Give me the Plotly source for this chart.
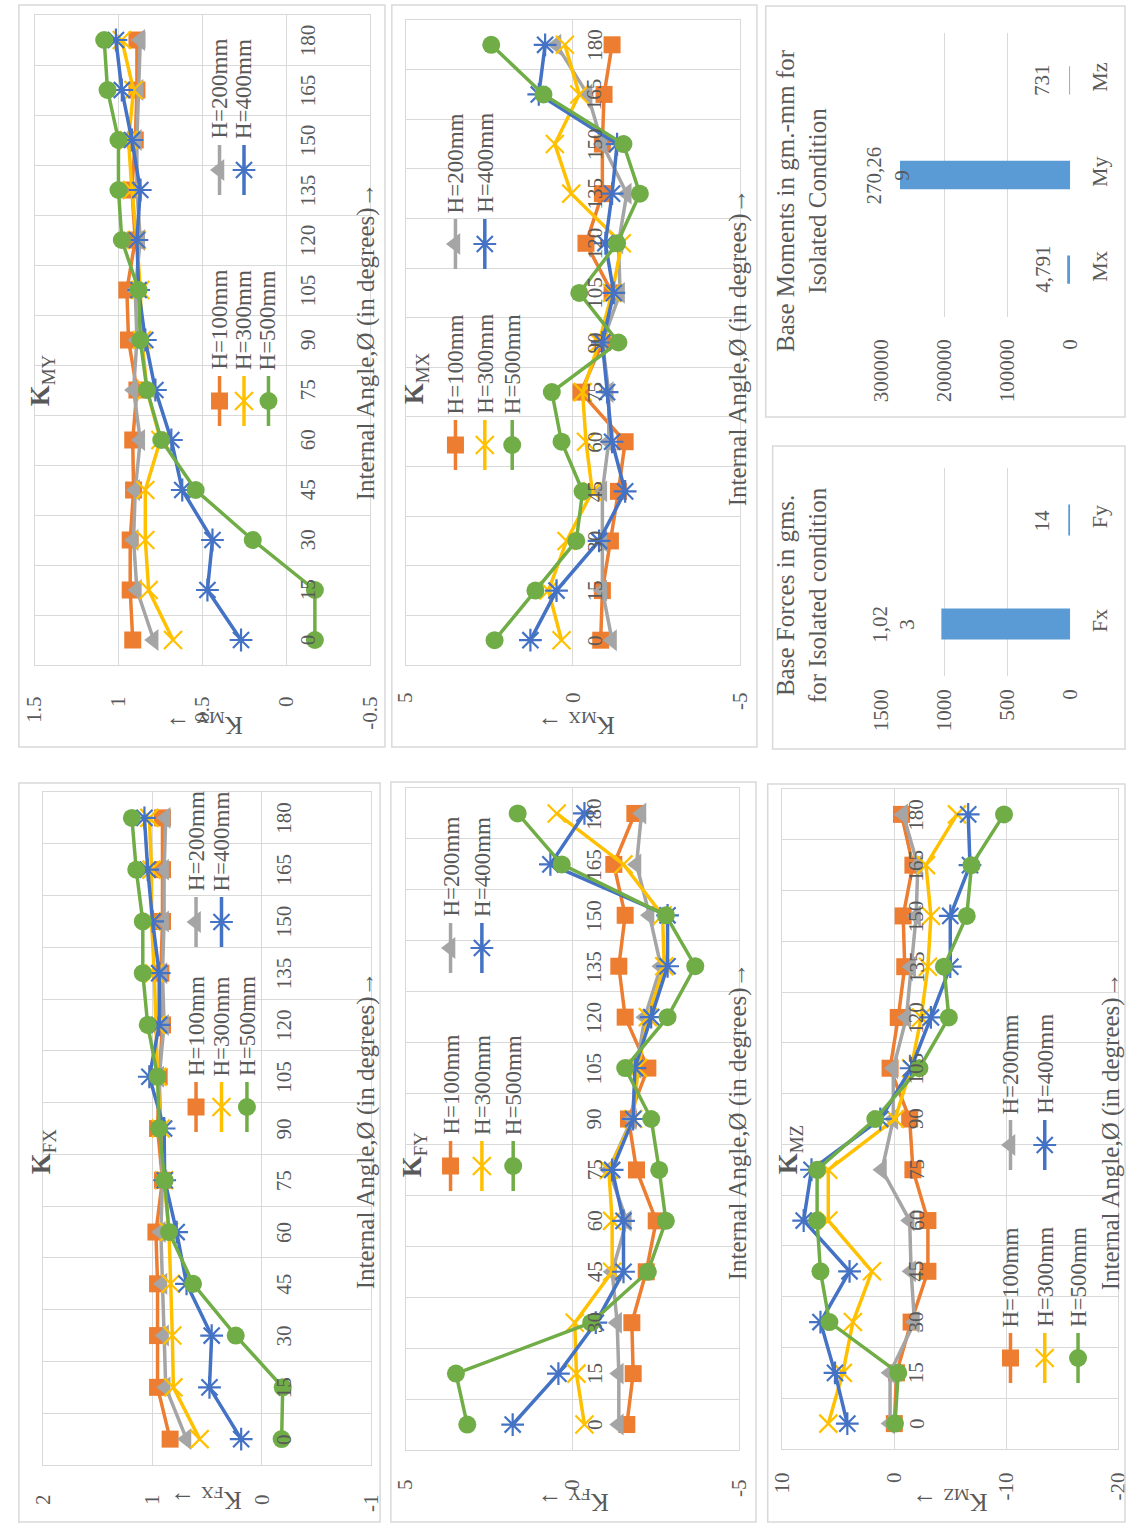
import plotly.graph_objects as go

W, H = 1138, 1523
FONT = "Liberation Serif"
TXT = "#595959"
GRID = "#D9D9D9"

# ---------------- data ----------------
angles = [0, 15, 30, 45, 60, 75, 90, 105, 120, 135, 150, 165, 180]
angle_labels = ["0", "15", "30", "45", "60", "75", "90", "105", "120", "135", "150", "165", "180"]
series_names = ["H=100mm", "H=200mm", "H=300mm", "H=400mm", "H=500mm"]

kmy_h100 = [0.915, 0.93, 0.93, 0.91, 0.915, 0.89, 0.94, 0.95, 0.90, 0.92, 0.90, 0.89, 0.89]
kmy_h200 = [0.79, 0.89, 0.91, 0.90, 0.87, 0.91, 0.89, 0.90, 0.87, 0.89, 0.89, 0.88, 0.87]
kmy_h300 = [0.675, 0.82, 0.84, 0.84, 0.75, 0.83, 0.86, 0.87, 0.89, 0.92, 0.94, 0.91, 0.98]
kmy_h400 = [0.27, 0.47, 0.44, 0.62, 0.685, 0.78, 0.84, 0.88, 0.89, 0.87, 0.92, 0.98, 1.015]
kmy_h500 = [-0.17, -0.17, 0.20, 0.54, 0.745, 0.83, 0.87, 0.88, 0.98, 1.0, 1.0, 1.065, 1.085]

kmx_h100 = [-0.83, -0.88, -1.12, -1.36, -1.56, -0.24, -0.88, -1.17, -0.39, -0.88, -0.88, -0.93, -1.17]
kmx_h200 = [-1.17, -0.88, -0.88, -0.88, -1.07, -1.07, -0.88, -1.41, -1.36, -1.61, -0.88, -0.44, 0.49]
kmx_h300 = [0.34, 0.73, 0.19, -0.58, -0.39, -0.29, -0.78, -1.17, -1.46, 0.05, 0.54, -0.19, 0.24]
kmx_h400 = [1.27, 0.49, -0.78, -1.56, -1.17, -1.02, -0.88, -1.22, -0.97, -1.17, -1.32, 1.02, 0.83]
kmx_h500 = [2.34, 1.12, -0.10, -0.29, 0.34, 0.63, -1.36, -0.19, -1.32, -2.0, -1.51, 0.88, 2.44]

kfx_h100 = [0.84, 0.955, 0.955, 0.955, 0.97, 0.91, 0.955, 0.94, 0.91, 0.925, 0.91, 0.91, 0.91]
kfx_h200 = [0.69, 0.88, 0.895, 0.91, 0.925, 0.91, 0.925, 0.94, 0.895, 0.91, 0.895, 0.895, 0.88]
kfx_h300 = [0.57, 0.81, 0.82, 0.835, 0.85, 0.895, 0.925, 0.955, 0.97, 0.985, 1.01, 1.01, 1.03]
kfx_h400 = [0.19, 0.48, 0.46, 0.69, 0.78, 0.89, 0.895, 1.03, 0.94, 0.94, 1.0, 1.045, 1.075]
kfx_h500 = [-0.18, -0.19, 0.24, 0.63, 0.85, 0.89, 0.94, 0.955, 1.045, 1.09, 1.09, 1.15, 1.19]

kfy_h100 = [-1.63, -1.82, -1.78, -2.21, -2.51, -1.92, -1.68, -2.26, -1.58, -1.39, -1.58, -1.24, -1.87]
kfy_h200 = [-1.39, -1.39, -1.34, -1.19, -1.63, -1.09, -1.78, -1.92, -2.17, -2.65, -2.31, -1.92, -2.07]
kfy_h300 = [-0.36, -0.12, -0.07, -1.19, -1.19, -1.09, -1.82, -1.97, -2.26, -2.75, -2.70, -1.53, 0.47]
kfy_h400 = [1.79, 0.42, -0.70, -1.53, -1.53, -1.19, -1.82, -1.87, -2.36, -2.85, -2.85, 0.66, -0.36]
kfy_h500 = [3.15, 3.49, -0.56, -2.26, -2.80, -2.60, -2.36, -1.58, -2.85, -3.68, -2.80, 0.32, 1.64]

kmz_h100 = [0.0, -0.2, -1.5, -3.0, -3.0, -1.66, -1.37, 0.38, -0.35, -0.93, -0.79, -1.66, -0.64]
kmz_h200 = [0.38, 0.38, -1.8, -1.5, -1.37, 1.1, 0.09, 0.09, -1.08, -1.5, -1.95, -2.1, -0.79]
kmz_h300 = [5.9, 4.6, 3.7, 2.0, 5.9, 5.9, -0.06, -1.5, -2.4, -3.0, -3.27, -2.83, -5.6]
kmz_h400 = [4.2, 5.3, 6.6, 4.0, 8.1, 7.4, 1.25, -1.5, -3.27, -5.0, -5.0, -6.76, -6.6]
kmz_h500 = [-0.06, -0.35, 5.8, 6.6, 6.9, 6.9, 1.7, -2.24, -4.87, -4.43, -6.47, -6.9, -9.8]

kmy_ticks = [1.5, 1, 0.5, 0, -0.5]
kmy_tick_labels = ["1.5", "1", "0.5", "0", "-0.5"]
kmx_ticks = [5, 0, -5]
kmx_tick_labels = ["5", "0", "-5"]
kfx_ticks = [2, 1, 0, -1]
kfx_tick_labels = ["2", "1", "0", "-1"]
kfy_ticks = [5, 0, -5]
kfy_tick_labels = ["5", "0", "-5"]
kmz_ticks = [10, 0, -10, -20]
kmz_tick_labels = ["10", "0", "-10", "-20"]

moment_cats = ["Mx", "My", "Mz"]
moment_vals = [4791, 270269, 731]
moment_labels = ["4,791", "270,26<br>9", "731"]
moment_ticks = [0, 100000, 200000, 300000]
moment_tick_labels = ["0", "100000", "200000", "300000"]

force_cats = ["Fx", "Fy"]
force_vals = [1023, 14]
force_labels = ["1,02<br>3", "14"]
force_ticks = [0, 500, 1000, 1500]
force_tick_labels = ["0", "500", "1000", "1500"]

# ---------------- styling / layout ----------------
styles = [
    dict(color="#ED7D31", symbol="square", size=17, open=False),
    dict(color="#A5A5A5", symbol="triangle-left", size=19, open=False),
    dict(color="#FFC000", symbol="x-thin-open", size=18, open=True),
    dict(color="#4472C4", symbol="asterisk-open", size=19, open=True),
    dict(color="#70AD47", symbol="circle", size=18, open=False),
]
LINE_W = 3.5


def fx(p):
    return p / W


def fy(p):
    return 1 - p / H


def font(size, color=TXT):
    return dict(family=FONT, size=size, color=color)


def marker_of(st):
    if st["open"]:
        return dict(symbol=st["symbol"], size=st["size"], color=st["color"],
                    line=dict(color=st["color"], width=2.2))
    return dict(symbol=st["symbol"], size=st["size"], color=st["color"], line=dict(width=0))


charts = [
    dict(title="<b>K</b><sub>MY</sub>", vt="K<sub>MY</sub> →",
         data=[kmy_h100, kmy_h200, kmy_h300, kmy_h400, kmy_h500],
         box=(23, 366, 15, 665), rng=(1.5, -0.5), ticks=kmy_ticks, tl=kmy_tick_labels,
         tpos=(31, 380), apos=(362, 341), vpos=(196, 723), standoff=22,
         leg_cols=(212, 237, 262), leg_rows=(401, 170)),
    dict(title="<b>K</b><sub>MX</sub>", vt="K<sub>MX</sub> →",
         data=[kmx_h100, kmx_h200, kmx_h300, kmx_h400, kmx_h500],
         box=(402, 744, 20, 665), rng=(5, -5), ticks=kmx_ticks, tl=kmx_tick_labels,
         tpos=(413, 378), apos=(742, 347), vpos=(576, 723), standoff=18,
         leg_cols=(453, 483, 511), leg_rows=(445, 244)),
    dict(title="<b>K</b><sub>FX</sub>", vt="K<sub>FX</sub> →",
         data=[kfx_h100, kfx_h200, kfx_h300, kfx_h400, kfx_h500],
         box=(32, 367, 792, 1465), rng=(2, -1), ticks=kfx_ticks, tl=kfx_tick_labels,
         tpos=(32, 1151), apos=(362, 1130), vpos=(198, 1499), standoff=20,
         leg_cols=(188, 214, 240), leg_rows=(1107, 922)),
    dict(title="<b>K</b><sub>FY</sub>", vt="K<sub>FY</sub> →",
         data=[kfy_h100, kfy_h200, kfy_h300, kfy_h400, kfy_h500],
         box=(402, 743, 788, 1450), rng=(5, -5), ticks=kfy_ticks, tl=kfy_tick_labels,
         tpos=(411, 1154), apos=(742, 1121), vpos=(573, 1501), standoff=20,
         leg_cols=(448, 480, 512), leg_rows=(1166, 948)),
    dict(title="<b>K</b><sub>MZ</sub>", vt="K<sub>MZ</sub> →",
         data=[kmz_h100, kmz_h200, kmz_h300, kmz_h400, kmz_h500],
         box=(787, 1130, 789, 1449), rng=(10, -20), ticks=kmz_ticks, tl=kmz_tick_labels,
         tpos=(795, 1150), apos=(1123, 1131), vpos=(958, 1501), standoff=14,
         leg_cols=(1020, 1055, 1089), leg_rows=(1358, 1145)),
]

panel_boxes = [(7, 5, 381, 747), (388, 5, 761, 747), (770, 6, 1137, 417), (777, 446, 1137, 749),
               (7, 783, 376, 1522), (387, 782, 760, 1522), (772, 784, 1137, 1522)]

fig = go.Figure()
layout = dict(width=W, height=H, margin=dict(l=0, r=0, t=0, b=0),
              paper_bgcolor="white", plot_bgcolor="rgba(0,0,0,0)", showlegend=False)
annotations = []
shapes = []

for (x0, y0, x1, y1) in panel_boxes:
    shapes.append(dict(type="rect", xref="paper", yref="paper", x0=fx(x0), x1=fx(x1),
                       y0=fy(y1), y1=fy(y0), line=dict(color=GRID, width=1.5)))

grid_angles = [-7.5 + 15 * i for i in range(14)]

for n, ch in enumerate(charts, start=1):
    sfx = "" if n == 1 else str(n)
    xa, ya = "x" + sfx, "y" + sfx
    bx0, bx1, by0, by1 = ch["box"]
    layout["xaxis" + sfx] = dict(domain=[fx(bx0), fx(bx1)], range=list(ch["rng"]), anchor=ya,
                                 tickvals=ch["ticks"], ticktext=ch["tl"], tickangle=-90,
                                 tickfont=font(21), showgrid=True, gridcolor=GRID, gridwidth=1,
                                 zeroline=False, showline=True, mirror=True, linecolor=GRID,
                                 linewidth=1, ticks="", ticklabelstandoff=ch["standoff"],
                                 fixedrange=True)
    layout["yaxis" + sfx] = dict(domain=[fy(by1), fy(by0)], range=[-7.5, 187.5], anchor=xa,
                                 tickvals=grid_angles, showticklabels=False, showgrid=True,
                                 gridcolor=GRID, gridwidth=1, zeroline=False, showline=True,
                                 mirror=True, linecolor=GRID, linewidth=1, ticks="",
                                 fixedrange=True)
    for vals, st, name in zip(ch["data"], styles, series_names):
        fig.add_trace(go.Scatter(x=vals, y=angles, mode="lines+markers", name=name,
                                 line=dict(color=st["color"], width=LINE_W), marker=marker_of(st),
                                 xaxis=xa, yaxis=ya, hoverinfo="skip", cliponaxis=False))
    # category labels next to the value-zero line
    for a, lab in zip(angles, angle_labels):
        annotations.append(dict(x=0, y=a, xref=xa, yref=ya, text=lab, textangle=-90,
                                xanchor="left", yanchor="middle", xshift=8, showarrow=False,
                                font=font(21)))
    # titles
    tx, ty = ch["tpos"]
    annotations.append(dict(x=fx(tx), y=fy(ty), xref="paper", yref="paper", text=ch["title"],
                            textangle=-90, showarrow=False, xanchor="center", yanchor="middle",
                            font=font(27)))
    axx, axy = ch["apos"]
    annotations.append(dict(x=fx(axx), y=fy(axy), xref="paper", yref="paper",
                            text="Internal Angle,Ø (in degrees)→", textangle=-90,
                            showarrow=False, xanchor="center", yanchor="middle", font=font(25)))
    vx, vy = ch["vpos"]
    annotations.append(dict(x=fx(vx), y=fy(vy), xref="paper", yref="paper", text=ch["vt"],
                            textangle=180, showarrow=False, xanchor="center", yanchor="middle",
                            font=font(25)))

# ---------------- bar charts ----------------
bars = [
    dict(cats=moment_cats, vals=moment_vals, labels=moment_labels, ticks=moment_ticks,
         tl=moment_tick_labels, box=(888, 1081, 33, 317), vmax=300000, standoff=17,
         shifts=[-11, 15, -13],
         title="Base Moments in gm.-mm for<br>Isolated Condition", tpos=(807, 200)),
    dict(cats=force_cats, vals=force_vals, labels=force_labels, ticks=force_ticks,
         tl=force_tick_labels, box=(888, 1081, 468, 676), vmax=1500, standoff=8,
         shifts=[-21, -12],
         title="Base Forces in gms.<br>for Isolated condition", tpos=(807, 595)),
]
for k, b in enumerate(bars, start=len(charts) + 1):
    sfx = str(k)
    xa, ya = "x" + sfx, "y" + sfx
    bx0, bx1, by0, by1 = b["box"]
    layout["xaxis" + sfx] = dict(domain=[fx(bx0), fx(bx1)], range=[b["vmax"], 0], anchor=ya,
                                 tickvals=b["ticks"], ticktext=b["tl"], tickangle=-90,
                                 tickfont=font(21), showgrid=True, gridcolor=GRID,
                                 zeroline=False, showline=False, ticks="",
                                 ticklabelstandoff=b["standoff"], fixedrange=True)
    layout["yaxis" + sfx] = dict(domain=[fy(by1), fy(by0)], anchor=xa, side="right",
                                 type="category", categoryorder="array", categoryarray=b["cats"],
                                 range=[-0.5, len(b["cats"]) - 0.5], tickangle=-90,
                                 tickfont=font(22), showgrid=False, zeroline=False,
                                 showline=False, ticks="", ticklabelstandoff=14, fixedrange=True)
    fig.add_trace(go.Bar(x=b["vals"], y=b["cats"], orientation="h", width=0.3,
                         marker=dict(color="#5B9BD5", line=dict(width=0)),
                         xaxis=xa, yaxis=ya, hoverinfo="skip"))
    for v, c, lab, sh in zip(b["vals"], b["cats"], b["labels"], b["shifts"]):
        annotations.append(dict(x=v, y=c, xref=xa, yref=ya, text=lab, textangle=-90,
                                xanchor="right", yanchor="middle", xshift=sh, showarrow=False,
                                font=font(21)))
    tx, ty = b["tpos"]
    annotations.append(dict(x=fx(tx), y=fy(ty), xref="paper", yref="paper", text=b["title"],
                            textangle=-90, showarrow=False, xanchor="center", yanchor="middle",
                            font=font(25)))

# ---------------- rotated legends (pixel overlay axes) ----------------
ov = str(len(charts) + len(bars) + 1)
layout["xaxis" + ov] = dict(domain=[0, 1], range=[0, W], visible=False, fixedrange=True,
                            anchor="y" + ov)
layout["yaxis" + ov] = dict(domain=[0, 1], range=[H, 0], visible=False, fixedrange=True,
                            anchor="x" + ov)
for ch in charts:
    for i, (st, name) in enumerate(zip(styles, series_names)):
        cx = ch["leg_cols"][i // 2]
        my = ch["leg_rows"][i % 2]
        fig.add_trace(go.Scatter(x=[cx, cx], y=[my - 25, my + 25], mode="lines",
                                 line=dict(color=st["color"], width=LINE_W),
                                 xaxis="x" + ov, yaxis="y" + ov, hoverinfo="skip"))
        fig.add_trace(go.Scatter(x=[cx], y=[my], mode="markers", marker=marker_of(st),
                                 xaxis="x" + ov, yaxis="y" + ov, hoverinfo="skip"))
        annotations.append(dict(x=fx(cx), y=fy(my - 29), xref="paper", yref="paper", text=name,
                                textangle=-90, showarrow=False, xanchor="center",
                                yanchor="bottom", font=font(23)))

layout["annotations"] = annotations
layout["shapes"] = shapes
fig.update_layout(**layout)
fig.write_html("out.html", config=dict(displayModeBar=False),
               post_script="document.body.style.margin='0px';document.body.style.overflow='hidden';")
